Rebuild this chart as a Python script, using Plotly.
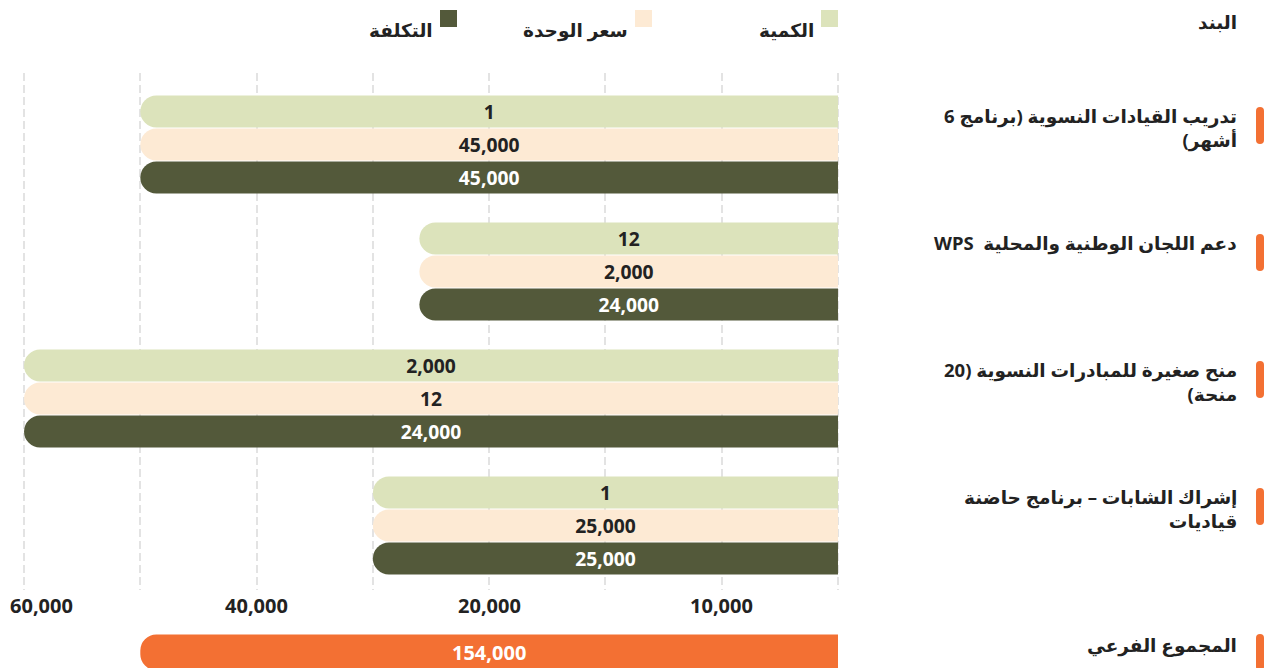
import plotly.graph_objects as go

# ---------------- data ----------------
series_names = ["الكمية", "سعر الوحدة", "التكلفة"]
category_lines = [
    ["تدريب القيادات النسوية (برنامج 6", "أشهر)"],
    ["دعم اللجان الوطنية والمحلية  WPS"],
    ["منح صغيرة للمبادرات النسوية (20", "منحة)"],
    ["إشراك الشابات – برنامج حاضنة", "قياديات"],
]
quantity = [1, 12, 2000, 1]
unit_price = [45000, 2000, 12, 25000]
cost = [45000, 24000, 24000, 25000]
# bar extent read off the chart's own (non-uniform) value axis, in grid steps
bar_extent = [6.0, 3.6, 7.0, 4.0]
header_label = "البند"
total_label = "المجموع الفرعي"
total_value = 154000
total_extent = 6.0
grid_vals = [0, 1, 2, 3, 4, 5, 6, 7]
tick_vals = [1, 3, 5, 7]
tick_text = ["10,000", "20,000", "40,000", "60,000"]

# ---------------- style ----------------
W, H = 1275, 668
OFF = 8  # page body margin
colors = ["#dce3bb", "#fdead4", "#53593a"]
text_colors = ["#222222", "#222222", "#ffffff"]
orange = "#f37033"
dark = "#222222"
FONT = "Noto Sans, DejaVu Sans, sans-serif"
AR_SIZE = 18.5
RLE, PDF = "\u202b", "\u202c"


def rtl(s):
    return RLE + s + PDF


def px_x(p):
    return (p - OFF) / W


def px_y(p):
    return (H - (p - OFF)) / H


def pill(c, h=37, w=8):
    r = w / 2
    a, b = c - h / 2 + r, c + h / 2 - r
    return (f"M {-r},{a} Q {-r},{a - r} 0,{a - r} Q {r},{a - r} {r},{a} "
            f"L {r},{b} Q {r},{b + r} 0,{b + r} Q {-r},{b + r} {-r},{b} Z")


cat_keys = [" ".join(lines) for lines in category_lines]

fig = go.Figure()
for name, vals, col, tcol in zip(series_names, [quantity, unit_price, cost], colors, text_colors):
    fig.add_trace(go.Bar(
        y=cat_keys, x=bar_extent, orientation="h", name=name,
        marker=dict(color=col, line=dict(width=0)),
        text=[f"{v:,}" for v in vals], textposition="inside",
        insidetextanchor="middle", textangle=0, constraintext="none",
        textfont=dict(family=FONT, size=20, color=tcol, weight=700),
        showlegend=False, hoverinfo="skip", xaxis="x", yaxis="y",
    ))

fig.add_trace(go.Bar(
    y=[total_label], x=[total_extent], orientation="h",
    marker=dict(color=orange, line=dict(width=0)),
    text=[f"{total_value:,}"], textposition="inside", insidetextanchor="middle",
    textangle=0, constraintext="none",
    textfont=dict(family=FONT, size=20, color="#ffffff", weight=700),
    showlegend=False, hoverinfo="skip", xaxis="x2", yaxis="y2",
))

x_dom = [px_x(12.4), px_x(843.8)]
x_rng = [7.1, -0.05]

annotations = []
shapes = []

# axis tick labels
for v, t in zip(tick_vals, tick_text):
    last = v == max(tick_vals)
    annotations.append(dict(
        x=v, xref="x", y=px_y(605), yref="paper", text=t, showarrow=False,
        xanchor="left" if last else "center", xshift=-16 if last else 0,
        yanchor="middle", font=dict(family=FONT, size=20, color=dark, weight=700),
    ))

# category labels + orange markers
for i, lines in enumerate(category_lines):
    annotations.append(dict(
        x=px_x(1239), xref="paper", y=cat_keys[i], yref="y", yanchor="top", yshift=43,
        xanchor="right", align="right", showarrow=False,
        text="<br>".join(rtl(l) for l in lines),
        font=dict(family=FONT, size=AR_SIZE, color=dark, weight=700),
    ))
    shapes.append(dict(
        type="path", xref="paper", xsizemode="pixel", xanchor=px_x(1260),
        yref="y", ysizemode="pixel", yanchor=i,
        path=pill(19), fillcolor=orange, line=dict(width=0), layer="above",
    ))

annotations.append(dict(
    x=px_x(1239), xref="paper", y=total_label, yref="y2", yanchor="middle", yshift=8,
    xanchor="right", align="right", showarrow=False, text=rtl(total_label),
    font=dict(family=FONT, size=AR_SIZE, color=dark, weight=700),
))
shapes.append(dict(
    type="path", xref="paper", xsizemode="pixel", xanchor=px_x(1260),
    yref="y2", ysizemode="pixel", yanchor=0,
    path=pill(0), fillcolor=orange, line=dict(width=0), layer="above",
))

# header
annotations.append(dict(
    x=px_x(1239), xref="paper", y=px_y(21), yref="paper", xanchor="right", yanchor="middle",
    showarrow=False, text=rtl(header_label),
    font=dict(family=FONT, size=AR_SIZE, color=dark, weight=700),
))

# legend (RTL: swatch to the right of the text)
legend_right = [838, 652, 457]
for name, col, r in zip(series_names, colors, legend_right):
    shapes.append(dict(type="rect", xref="paper", yref="paper",
                       x0=px_x(r - 17), x1=px_x(r), y0=px_y(27), y1=px_y(10),
                       fillcolor=col, line=dict(width=0)))
    annotations.append(dict(
        x=px_x(r - 22), xref="paper", y=px_y(29), yref="paper", xanchor="right",
        yanchor="middle", showarrow=False, text=rtl(name),
        font=dict(family=FONT, size=AR_SIZE, color=dark, weight=700),
    ))

fig.update_layout(
    width=W, height=H, margin=dict(l=0, r=0, t=0, b=0),
    paper_bgcolor="white", plot_bgcolor="white",
    barmode="group", bargap=0.22, bargroupgap=0.03, barcornerradius=16,
    font=dict(family=FONT, color=dark),
    xaxis=dict(domain=x_dom, range=x_rng, anchor="y", tickvals=grid_vals,
               showticklabels=False, ticks="", showgrid=True, gridcolor="#e3e3e3",
               gridwidth=1.5, griddash="8px,4px", zeroline=False, showline=False,
               fixedrange=True),
    yaxis=dict(domain=[px_y(590), px_y(73)], type="category",
               range=[3.508, -0.563], showticklabels=False, showgrid=False,
               zeroline=False, ticks="", fixedrange=True),
    xaxis2=dict(domain=x_dom, matches="x", anchor="y2", showticklabels=False,
                showgrid=False, zeroline=False, ticks="", fixedrange=True),
    yaxis2=dict(domain=[0, px_y(614.6)], type="category", range=[-0.5, 0.8],
                showticklabels=False, showgrid=False, zeroline=False, ticks="",
                fixedrange=True),
    annotations=annotations, shapes=shapes, showlegend=False,
)

fig.write_html("out.html")
